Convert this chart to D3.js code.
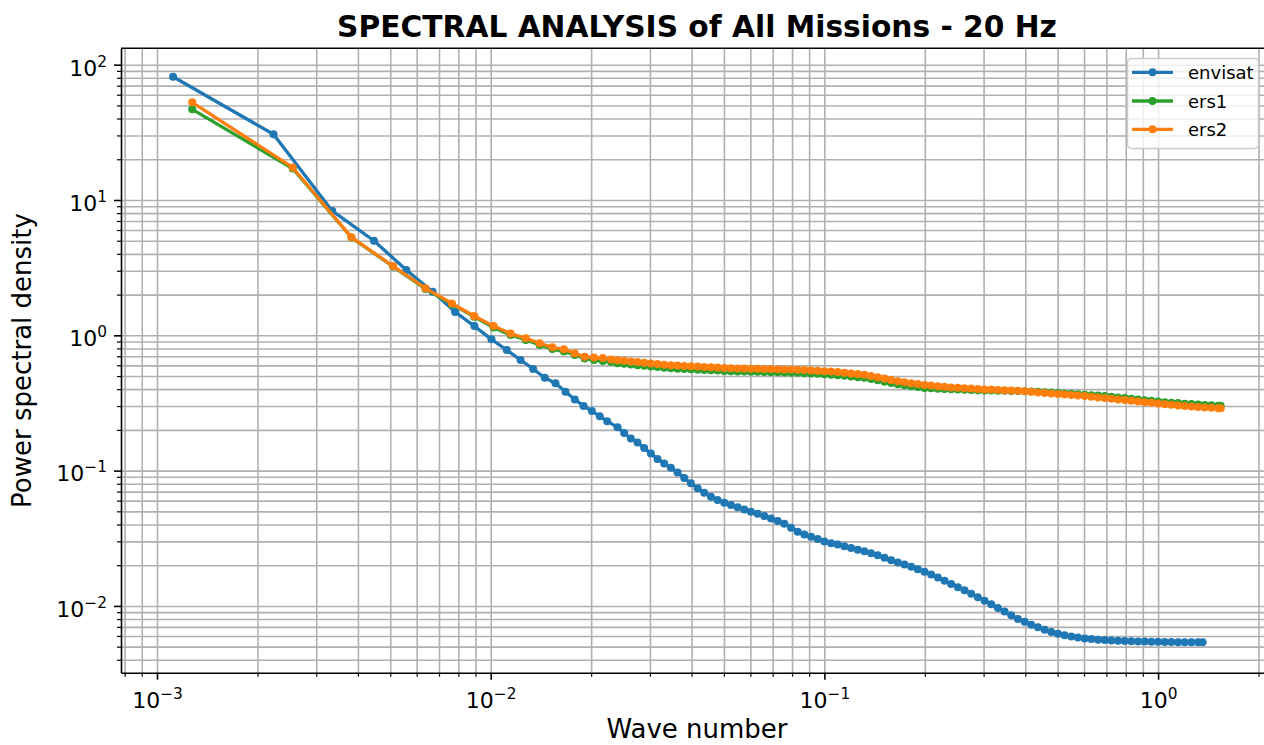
<!DOCTYPE html>
<html><head><meta charset="utf-8">
<script src="https://cdn.jsdelivr.net/npm/d3@7"></script>
<style>
body{margin:0;background:#fff;}
svg{display:block;font-family:"DejaVu Sans",sans-serif;}
</style></head><body>
<svg id="chart" width="1264" height="745"></svg>
<script>
const titleText = "SPECTRAL ANALYSIS of All Missions - 20 Hz";
const xLabelText = "Wave number";
const yLabelText = "Power spectral density";
const seriesNames = ["envisat", "ers1", "ers2"];
const seriesColors = ["#1f77b4", "#2ca02c", "#ff7f0e"];
const xMajorTicks = [1e-3, 1e-2, 1e-1, 1];
const xTickExponents = ["\u22123", "\u22122", "\u22121", "0"];
const yMajorTicks = [1e-2, 1e-1, 1, 10, 100];
const yTickExponents = ["\u22122", "\u22121", "0", "1", "2"];

const envisatWaveNumber = [0.001117,0.002234,0.003351,0.004468,0.005585,0.006702,0.007819,0.008936,0.010053,0.01117,
0.012287,0.013404,0.014521,0.015638,0.016755,0.017872,0.018989,0.020106,0.021223,0.02234,
0.02399,0.02512,0.02630,0.02754,0.02884,0.03020,0.03162,0.03311,0.03467,0.03631,
0.03802,0.03981,0.04169,0.04365,0.04571,0.04786,0.05012,0.05248,0.05495,0.05754,
0.06026,0.06310,0.06607,0.06918,0.07244,0.07586,0.07943,0.08318,0.08710,0.09120,
0.09550,0.1000,0.1047,0.1096,0.1148,0.1202,0.1259,0.1318,0.1380,0.1445,
0.1514,0.1585,0.1660,0.1738,0.1820,0.1905,0.1995,0.2089,0.2188,0.2291,
0.2399,0.2512,0.2630,0.2754,0.2884,0.3020,0.3162,0.3311,0.3467,0.3631,
0.3802,0.3981,0.4169,0.4365,0.4571,0.4786,0.5012,0.5248,0.5495,0.5754,
0.6026,0.6310,0.6607,0.6918,0.7244,0.7586,0.7943,0.8318,0.8710,0.9120,
0.9550,1.000,1.047,1.096,1.148,1.202,1.259,1.318,1.36];
const envisatPSD = [81.5,30.6,8.3,5.0,3.04,2.1,1.49,1.17,0.934,0.779,
0.657,0.564,0.486,0.442,0.383,0.336,0.300,0.276,0.252,0.232,
0.209,0.190,0.173,0.1616,0.1472,0.1339,0.1221,0.1131,0.1049,0.0970,
0.0882,0.0807,0.0741,0.0687,0.0640,0.0606,0.0579,0.0557,0.0536,0.0516,
0.0497,0.0479,0.0461,0.0443,0.0424,0.0405,0.0379,0.0354,0.0337,0.0325,
0.0312,0.0299,0.0291,0.0284,0.0276,0.0268,0.0260,0.0254,0.0245,0.0237,
0.0227,0.0218,0.0209,0.0202,0.0195,0.0187,0.0179,0.0171,0.0162,0.01537,
0.01455,0.01377,0.01304,0.01230,0.01160,0.01093,0.01028,0.00967,0.00908,0.00852,
0.00802,0.00763,0.00725,0.00695,0.00666,0.00641,0.00624,0.00608,0.00595,0.00585,
0.00575,0.00569,0.00563,0.00559,0.00556,0.00553,0.00550,0.00548,0.00547,0.00545,
0.00544,0.00543,0.00542,0.00541,0.00540,0.00540,0.00539,0.00538,0.00538];

const ersWaveNumber = [0.001275,0.00255,0.003825,0.0051,0.006375,0.00765,0.008925,0.0102,0.011475,0.01275,
0.014025,0.0153,0.016575,0.01785,0.019125,0.0204,0.021675,0.02295,
0.02399,0.02512,0.02630,0.02754,0.02884,0.03020,0.03162,0.03311,0.03467,0.03631,
0.03802,0.03981,0.04169,0.04365,0.04571,0.04786,0.05012,0.05248,0.05495,0.05754,
0.06026,0.06310,0.06607,0.06918,0.07244,0.07586,0.07943,0.08318,0.08710,0.09120,
0.09550,0.1000,0.1047,0.1096,0.1148,0.1202,0.1259,0.1318,0.1380,0.1445,
0.1514,0.1585,0.1660,0.1738,0.1820,0.1905,0.1995,0.2089,0.2188,0.2291,
0.2399,0.2512,0.2630,0.2754,0.2884,0.3020,0.3162,0.3311,0.3467,0.3631,
0.3802,0.3981,0.4169,0.4365,0.4571,0.4786,0.5012,0.5248,0.5495,0.5754,
0.6026,0.6310,0.6607,0.6918,0.7244,0.7586,0.7943,0.8318,0.8710,0.9120,
0.9550,1.000,1.047,1.096,1.148,1.202,1.259,1.318,1.380,1.445,1.514,1.54];
const ers1PSD = [46.8,17.1,5.28,3.22,2.20,1.70,1.37,1.14,1.005,0.923,
0.848,0.792,0.759,0.715,0.674,0.657,0.646,0.635,
0.6219,0.6156,0.6083,0.6020,0.5949,0.5889,0.5820,0.5750,0.5711,0.5673,
0.5644,0.5615,0.5577,0.5548,0.5520,0.5492,0.5455,0.5426,0.5408,0.5399,
0.5381,0.5371,0.5363,0.5345,0.5327,0.5317,0.5299,0.5291,0.5254,0.5228,
0.5192,0.5157,0.5121,0.5079,0.5018,0.4959,0.4909,0.4851,0.4760,0.4656,
0.4547,0.4447,0.4342,0.4269,0.4205,0.4148,0.4085,0.4058,0.4030,0.4010,
0.3990,0.3975,0.3960,0.3945,0.3930,0.3918,0.3906,0.3896,0.3888,0.3881,
0.3874,0.3860,0.3845,0.3826,0.3800,0.3773,0.3746,0.3720,0.3695,0.3665,
0.3635,0.3605,0.3591,0.3555,0.3513,0.3477,0.3436,0.3395,0.3354,0.3315,
0.3281,0.3243,0.3204,0.3171,0.3158,0.3126,0.3105,0.3084,0.3058,0.3037,0.3016,0.3011];
const ers2PSD = [52.7,17.4,5.30,3.25,2.23,1.72,1.39,1.17,1.03,0.950,
0.873,0.815,0.788,0.736,0.695,0.685,0.680,0.662,
0.6546,0.6480,0.6403,0.6337,0.6262,0.6199,0.6126,0.6053,0.6012,0.5972,
0.5941,0.5911,0.5870,0.5840,0.5810,0.5781,0.5742,0.5712,0.5693,0.5683,
0.5664,0.5654,0.5645,0.5626,0.5607,0.5597,0.5578,0.5569,0.5531,0.5503,
0.5465,0.5428,0.5391,0.5346,0.5282,0.5220,0.5167,0.5106,0.5011,0.4901,
0.4786,0.4681,0.4571,0.4494,0.4426,0.4366,0.4300,0.4249,0.4206,0.4163,
0.4121,0.4093,0.4065,0.4037,0.4010,0.3983,0.3969,0.3949,0.3929,0.3909,
0.3889,0.3856,0.3823,0.3785,0.3752,0.3721,0.3689,0.3651,0.3620,0.3584,
0.3553,0.3511,0.3470,0.3435,0.3394,0.3359,0.3320,0.3280,0.3241,0.3203,
0.3170,0.3133,0.3096,0.3064,0.3028,0.2997,0.2977,0.2957,0.2932,0.2912,0.2892,0.2887];

const seriesData = [
  d3.zip(envisatWaveNumber, envisatPSD),
  d3.zip(ersWaveNumber, ers1PSD),
  d3.zip(ersWaveNumber, ers2PSD)
];

const L = 121, R = 1273, T = 48.3, B = 672.7;
const svg = d3.select("#chart");
const x = d3.scaleLog().domain([7.8e-4, 2.21]).range([L, R]);
const y = d3.scaleLog().domain([3.21e-3, 132.2]).range([B, T]);

const gridColor = "#b0b0b0";
const allX = x.ticks();
const allY = y.ticks();
const minorX = allX.filter(v => !xMajorTicks.some(m => Math.abs(m - v) / m < 1e-6));
const minorY = allY.filter(v => !yMajorTicks.some(m => Math.abs(m - v) / m < 1e-6));

// grid
const gGridX = svg.append("g").attr("transform", `translate(0,${B})`)
  .call(d3.axisBottom(x).tickValues(allX).tickSize(-(B - T)).tickFormat(""));
const gGridY = svg.append("g").attr("transform", `translate(${L},0)`)
  .call(d3.axisLeft(y).tickValues(allY).tickSize(-(R - L)).tickFormat(""));
[gGridX, gGridY].forEach(g => {
  g.select(".domain").remove();
  g.selectAll("line").attr("stroke", gridColor).attr("stroke-width", 1.6);
});

// data
svg.append("clipPath").attr("id", "clip").append("rect")
  .attr("x", L).attr("y", T).attr("width", R - L).attr("height", B - T);
const plot = svg.append("g").attr("clip-path", "url(#clip)");
const line = d3.line().x(d => x(d[0])).y(d => y(d[1]));
const markerR = 4;
seriesData.forEach((data, i) => {
  const g = plot.append("g");
  g.append("path").datum(data).attr("d", line).attr("fill", "none")
    .attr("stroke", seriesColors[i]).attr("stroke-width", 3.3).attr("stroke-linejoin", "round");
  g.selectAll("circle").data(data).join("circle")
    .attr("cx", d => x(d[0])).attr("cy", d => y(d[1])).attr("r", markerR)
    .attr("fill", seriesColors[i]);
});

// axes
const tickFont = 22;
const gxMinor = svg.append("g").attr("transform", `translate(0,${B})`)
  .call(d3.axisBottom(x).tickValues(minorX).tickSize(4).tickFormat(""));
gxMinor.select(".domain").remove();
gxMinor.selectAll("line").attr("stroke", "#000").attr("stroke-width", 1.2);
const gx = svg.append("g").attr("transform", `translate(0,${B})`)
  .call(d3.axisBottom(x).tickValues(xMajorTicks).tickSize(7).tickSizeOuter(0).tickFormat(() => "10"));
gx.select(".domain").attr("stroke", "#000").attr("stroke-width", 1.6);
gx.selectAll(".tick line").attr("stroke", "#000").attr("stroke-width", 1.6);
gx.selectAll(".tick text").each(function(d, i) {
  const t = d3.select(this);
  t.attr("y", 35).attr("dy", null).attr("font-size", tickFont).attr("font-family", "DejaVu Sans").attr("fill", "#000");
  t.append("tspan").attr("dy", -9).attr("font-size", tickFont * 0.7).text(xTickExponents[i]);
});

const gyMinor = svg.append("g").attr("transform", `translate(${L},0)`)
  .call(d3.axisLeft(y).tickValues(minorY).tickSize(4).tickFormat(""));
gyMinor.select(".domain").remove();
gyMinor.selectAll("line").attr("stroke", "#000").attr("stroke-width", 1.2);
const gy = svg.append("g").attr("transform", `translate(${L},0)`)
  .call(d3.axisLeft(y).tickValues(yMajorTicks).tickSize(7).tickSizeOuter(0).tickFormat(() => "10"));
gy.select(".domain").attr("stroke", "#000").attr("stroke-width", 1.6);
gy.selectAll(".tick line").attr("stroke", "#000").attr("stroke-width", 1.6);
gy.selectAll(".tick text").each(function(d, i) {
  const t = d3.select(this);
  t.attr("x", -14).attr("y", 10.3).attr("dy", null).attr("font-size", tickFont).attr("font-family", "DejaVu Sans").attr("fill", "#000");
  t.append("tspan").attr("dy", -9).attr("font-size", tickFont * 0.7).text(yTickExponents[i]);
});

// spines top/right
svg.append("line").attr("x1", L).attr("x2", R).attr("y1", T).attr("y2", T).attr("stroke", "#000").attr("stroke-width", 1.6);
svg.append("line").attr("x1", R).attr("x2", R).attr("y1", T).attr("y2", B).attr("stroke", "#000").attr("stroke-width", 1.6);

// title & labels
svg.append("text").attr("x", (L + R) / 2).attr("y", 37).attr("text-anchor", "middle")
  .attr("font-size", 29.7).attr("font-weight", "bold").text(titleText);
svg.append("text").attr("x", (L + R) / 2).attr("y", 738).attr("text-anchor", "middle")
  .attr("font-size", 26).text(xLabelText);
svg.append("text").attr("transform", `translate(31,${(T + B) / 2}) rotate(-90)`).attr("text-anchor", "middle")
  .attr("font-size", 26).text(yLabelText);

// legend
const leg = svg.append("g");
leg.append("rect").attr("x", 1127.5).attr("y", 58.5).attr("width", 131).attr("height", 90).attr("rx", 4)
  .attr("fill", "#fff").attr("fill-opacity", 0.8).attr("stroke", "#cccccc").attr("stroke-width", 1.5);
const rowY = [72.3, 101, 129.3];
seriesNames.forEach((name, i) => {
  leg.append("line").attr("x1", 1132).attr("x2", 1173).attr("y1", rowY[i]).attr("y2", rowY[i])
    .attr("stroke", seriesColors[i]).attr("stroke-width", 3.3);
  leg.append("circle").attr("cx", 1152.5).attr("cy", rowY[i]).attr("r", markerR).attr("fill", seriesColors[i]);
  leg.append("text").attr("x", 1188).attr("y", rowY[i] + 6.5).attr("font-size", 18).text(name);
});
</script>
</body></html>
